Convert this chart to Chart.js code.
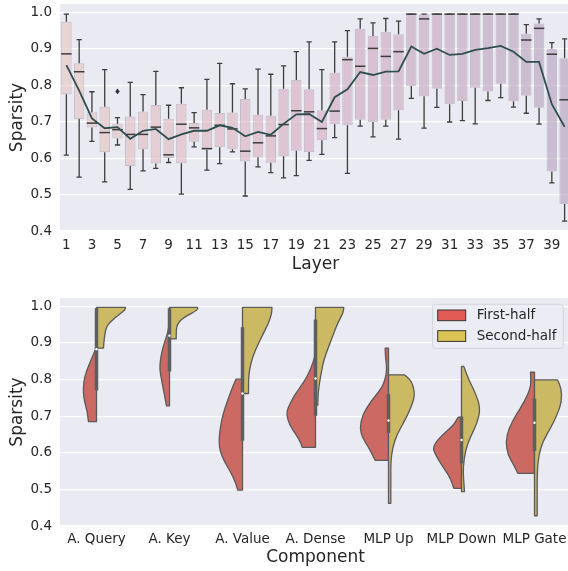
<!DOCTYPE html>
<html>
<head>
<meta charset="utf-8">
<script src="https://cdn.jsdelivr.net/npm/chart.js@4.4.1/dist/chart.umd.min.js"></script>
<style>
  html, body { margin: 0; padding: 0; overflow: hidden; background: #fff; }
  #wrap { position: relative; width: 568px; height: 571px; overflow: hidden; }
  .panel { position: absolute; left: 0; }
</style>
</head>
<body>
<div id="wrap">
  <div class="panel" style="top:0"><canvas id="layerChart" width="571" height="280"></canvas></div>
  <div class="panel" style="top:280px"><canvas id="componentChart" width="571" height="291"></canvas></div>
</div>
<script>
// ---- per-layer sparsity (box plot stats + mean) ----
const layers = Array.from({ length: 40 }, (_, i) => String(i + 1));
const whiskerLow  = [0.608, 0.548, 0.646, 0.535, 0.636, 0.514, 0.565, 0.572, 0.588, 0.501,
                     0.631, 0.567, 0.585, 0.617, 0.496, 0.576, 0.560, 0.546, 0.552, 0.594,
                     0.610, 0.656, 0.558, 0.688, 0.658, 0.688, 0.652, 0.764, 0.682, 0.739,
                     0.699, 0.703, 0.694, 0.758, 0.766, 0.740, 0.723, 0.693, 0.532, 0.427];
const q1          = [0.775, 0.707, 0.684, 0.616, 0.654, 0.578, 0.624, 0.585, 0.600, 0.586,
                     0.645, 0.623, 0.630, 0.624, 0.591, 0.602, 0.587, 0.605, 0.620, 0.617,
                     0.649, 0.693, 0.690, 0.705, 0.699, 0.705, 0.731, 0.798, 0.770, 0.790,
                     0.748, 0.757, 0.793, 0.783, 0.804, 0.756, 0.771, 0.738, 0.563, 0.474];
const median      = [0.886, 0.837, 0.696, 0.670, 0.678, 0.665, 0.665, 0.685, 0.609, 0.693,
                     0.683, 0.626, 0.690, 0.680, 0.619, 0.642, 0.661, 0.692, 0.730, 0.727,
                     0.681, 0.729, 0.870, 0.852, 0.901, 0.879, 0.892, 0.995, 0.982, 0.995,
                     0.995, 0.995, 0.995, 0.995, 0.995, 0.995, 0.924, 0.956, 0.885, 0.760];
const q3          = [0.974, 0.860, 0.726, 0.741, 0.694, 0.714, 0.728, 0.746, 0.708, 0.749,
                     0.696, 0.733, 0.724, 0.725, 0.762, 0.719, 0.716, 0.790, 0.814, 0.789,
                     0.731, 0.834, 0.878, 0.955, 0.935, 0.947, 0.940, 0.995, 0.995, 0.995,
                     0.995, 0.995, 0.995, 0.995, 0.995, 0.995, 0.941, 0.969, 0.900, 0.874];
const whiskerHigh = [0.995, 0.925, 0.782, 0.843, 0.711, 0.808, 0.774, 0.838, 0.745, 0.793,
                     0.725, 0.816, 0.860, 0.804, 0.790, 0.844, 0.830, 0.853, 0.892, 0.919,
                     0.843, 0.919, 0.950, 0.982, 0.971, 0.983, 0.976, 0.995, 0.995, 0.995,
                     0.995, 0.995, 0.995, 0.995, 0.995, 0.995, 0.966, 0.982, 0.917, 0.927];
const meanSparsity = [0.855, 0.785, 0.709, 0.682, 0.685, 0.653, 0.675, 0.680, 0.652, 0.665,
                      0.675, 0.675, 0.690, 0.683, 0.660, 0.672, 0.664, 0.694, 0.720, 0.721,
                      0.699, 0.767, 0.789, 0.836, 0.828, 0.837, 0.838, 0.906, 0.886, 0.900,
                      0.883, 0.886, 0.897, 0.902, 0.908, 0.892, 0.864, 0.864, 0.748, 0.686];
// [layer index, value]
const outliers = [[4, 0.783]];

// ---- per-component split violins ----
const components = ['A. Query', 'A. Key', 'A. Value', 'A. Dense', 'MLP Up', 'MLP Down', 'MLP Gate'];
const halves = ['First-half', 'Second-half'];
// [sparsity, half-width] pairs, width in 1/73 of a category slot
const firstHalfShape = [
  [[0.685, 8], [0.70, 8.8], [0.713, 9.3], [0.74, 12], [0.767, 13.3], [0.795, 12.7], [0.822, 10.3], [0.85, 6], [0.886, 0.5]],
  [[0.728, 3], [0.75, 4.5], [0.767, 5.7], [0.79, 7.3], [0.81, 8.7], [0.83, 9.7], [0.85, 9.3], [0.87, 8], [0.886, 6.7], [0.905, 4.5], [0.923, 2.3], [0.94, 1], [0.955, 0.3]],
  [[0.498, 4.7], [0.521, 7], [0.549, 12.3], [0.576, 18], [0.603, 22.3], [0.631, 23.7], [0.667, 22.3], [0.704, 19.7], [0.740, 15.3], [0.777, 10.3], [0.801, 6.5]],
  [[0.615, 13.3], [0.626, 14.3], [0.649, 19.3], [0.676, 26], [0.704, 29], [0.722, 27.7], [0.758, 21], [0.795, 11], [0.831, 4.3], [0.865, 0.5]],
  [[0.579, 13.3], [0.613, 19.3], [0.640, 26], [0.667, 28.7], [0.704, 26], [0.740, 17.7], [0.777, 6.7], [0.80, 3.5], [0.82, 2], [0.84, 2], [0.86, 3], [0.886, 3.3]],
  [[0.503, 7.7], [0.531, 11], [0.558, 17.7], [0.594, 26], [0.617, 29], [0.649, 19.3], [0.676, 7.7], [0.697, 3.5]],
  [[0.544, 16.7], [0.567, 20.7], [0.594, 26.7], [0.631, 28.7], [0.667, 25.7], [0.704, 18.3], [0.740, 10], [0.777, 4], [0.80, 3.7], [0.82, 4]]
];
const secondHalfShape = [
  [[0.886, 7], [0.90, 7.3], [0.92, 8.2], [0.94, 9.5], [0.95, 11.5], [0.96, 15], [0.97, 19], [0.98, 24], [0.99, 28.5], [0.997, 29]],
  [[0.911, 6.7], [0.93, 6.7], [0.945, 7.2], [0.955, 9], [0.965, 12], [0.975, 18], [0.985, 25], [0.993, 28.5], [0.997, 28]],
  [[0.762, 6], [0.786, 6], [0.813, 6.3], [0.84, 8], [0.868, 11], [0.895, 15.3], [0.923, 20.3], [0.95, 25.3], [0.977, 29], [0.997, 29.5]],
  [[0.73, 2.3], [0.745, 2.3], [0.78, 3.3], [0.818, 5.7], [0.854, 8.3], [0.891, 13.3], [0.927, 18.3], [0.955, 22.3], [0.982, 27.7], [0.997, 28.3]],
  [[0.462, 2.3], [0.52, 2.3], [0.576, 2.3], [0.613, 4], [0.649, 8.3], [0.685, 15.7], [0.722, 22.3], [0.758, 26.7], [0.795, 23.3], [0.813, 16]],
  [[0.494, 3], [0.53, 2], [0.562, 1.7], [0.608, 4], [0.644, 9], [0.681, 15.7], [0.722, 19], [0.763, 14], [0.799, 7.3], [0.836, 2.3]],
  [[0.428, 2.7], [0.485, 2.7], [0.549, 2.7], [0.594, 4.3], [0.631, 8.3], [0.667, 16], [0.704, 22.7], [0.740, 27.3], [0.777, 26.7], [0.799, 23]]
];
const innerQ1     = [0.770, 0.822, 0.633, 0.701, 0.654, 0.571, 0.605];
const innerQ3     = [0.995, 0.995, 0.943, 0.964, 0.760, 0.699, 0.748];
const innerMedian = [0.883, 0.920, 0.762, 0.803, 0.688, 0.635, 0.682];

const yTicks = [0.4, 0.5, 0.6, 0.7, 0.8, 0.9, 1.0];

// ---- shared styling ----
const FONT = "'DejaVu Sans', sans-serif";
const TEXT = '#262626';
const tickFont = { family: FONT, size: 13.5 };
const titleFont = { family: FONT, size: 17 };

const backdrop = {
  id: 'backdrop',
  beforeDraw(chart) {
    const { ctx, chartArea: a } = chart;
    ctx.save();
    ctx.fillStyle = '#eaeaf2';
    ctx.fillRect(a.left, a.top, a.right - a.left, a.bottom - a.top);
    ctx.restore();
  }
};

function yAxis() {
  return {
    min: 0.4,
    max: 1.0228,
    afterBuildTicks(s) { s.ticks = yTicks.map(v => ({ value: v })); },
    afterFit(s) {
      s.width = 60;
      // keep the plot box fixed; labels never sit on the edges
      s.paddingTop = 0;
      s.paddingBottom = 0;
    },
    grid: { color: '#ffffff', lineWidth: 1.2, drawTicks: false },
    border: { display: false },
    ticks: { padding: 8, color: TEXT, font: tickFont, callback: v => v.toFixed(1) },
    title: { display: true, text: 'Sparsity', color: TEXT, font: titleFont, padding: { top: 7, bottom: 7 } }
  };
}

// box fill per layer: light rose drifting to lilac
const boxStops = [[0, [229, 199, 194]], [19, [216, 173, 193]], [39, [182, 163, 190]]];
function boxColor(i) {
  let k = 0;
  while (k < boxStops.length - 2 && i > boxStops[k + 1][0]) k++;
  const [i0, c0] = boxStops[k], [i1, c1] = boxStops[k + 1];
  const t = (i - i0) / (i1 - i0);
  const c = c0.map((v, j) => Math.round(v + (c1[j] - v) * t));
  return `rgba(${c[0]},${c[1]},${c[2]},0.65)`;
}

// whiskers, caps, medians and fliers on top of the boxes
const boxDetails = {
  id: 'boxDetails',
  afterDatasetDraw(chart, args) {
    if (args.index !== 0) return;
    const { ctx } = chart;
    const y = chart.scales.y;
    ctx.save();
    ctx.strokeStyle = '#3d3d3d';
    args.meta.data.forEach((bar, i) => {
      const x = bar.x, half = bar.width / 2, cap = half / 2;
      ctx.beginPath();
      ctx.lineWidth = 1.3;
      ctx.moveTo(x, y.getPixelForValue(q1[i]));
      ctx.lineTo(x, y.getPixelForValue(whiskerLow[i]));
      ctx.moveTo(x, y.getPixelForValue(q3[i]));
      ctx.lineTo(x, y.getPixelForValue(whiskerHigh[i]));
      ctx.moveTo(x - cap, y.getPixelForValue(whiskerLow[i]));
      ctx.lineTo(x + cap, y.getPixelForValue(whiskerLow[i]));
      ctx.moveTo(x - cap, y.getPixelForValue(whiskerHigh[i]));
      ctx.lineTo(x + cap, y.getPixelForValue(whiskerHigh[i]));
      ctx.stroke();
      ctx.beginPath();
      ctx.lineWidth = 1.5;
      ctx.moveTo(x - half, y.getPixelForValue(median[i]));
      ctx.lineTo(x + half, y.getPixelForValue(median[i]));
      ctx.stroke();
    });
    ctx.fillStyle = '#333333';
    outliers.forEach(([i, v]) => {
      const x = args.meta.data[i].x, py = y.getPixelForValue(v), r = 2.8;
      ctx.beginPath();
      ctx.moveTo(x, py - r); ctx.lineTo(x + r * 0.8, py);
      ctx.lineTo(x, py + r); ctx.lineTo(x - r * 0.8, py);
      ctx.closePath();
      ctx.fill();
    });
    ctx.restore();
  }
};

new Chart(document.getElementById('layerChart'), {
  type: 'bar',
  data: {
    labels: layers,
    datasets: [
      {
        type: 'bar',
        label: 'Sparsity',
        data: layers.map((_, i) => [q1[i], q3[i]]),
        backgroundColor: layers.map((_, i) => boxColor(i)),
        borderColor: 'rgba(150,140,155,0.45)',
        borderWidth: 1,
        borderSkipped: false,
        barPercentage: 0.82,
        categoryPercentage: 1,
        order: 1
      },
      {
        type: 'line',
        label: 'Mean',
        data: meanSparsity,
        borderColor: '#2f4f4f',
        borderWidth: 1.8,
        pointRadius: 0,
        tension: 0,
        order: 0
      }
    ]
  },
  options: {
    responsive: false,
    animation: false,
    layout: { padding: { top: 4, left: 0, right: 0, bottom: 0 } },
    plugins: { legend: { display: false }, tooltip: { enabled: false } },
    scales: {
      x: {
        offset: true,
        afterFit(s) { s.height = 49; s.paddingLeft = 0; s.paddingRight = 0; },
        grid: { display: false, drawTicks: false },
        border: { display: false },
        ticks: {
          autoSkip: false, maxRotation: 0, padding: 6, color: TEXT, font: tickFont,
          callback: (v, i) => (i % 2 === 0 ? layers[i] : '')
        },
        title: { display: true, text: 'Layer', color: TEXT, font: titleFont, padding: { top: 5, bottom: 5 } }
      },
      y: yAxis()
    }
  },
  plugins: [backdrop, boxDetails]
});

// ---- split violins ----
const violinFill = ['#cc6962', '#ccb963'];
const legendFill = ['#e05c55', '#dcc454'];

function halfPath(ctx, cx, dir, shape, unit, y) {
  const pts = shape.map(([v, w]) => [cx + dir * w * unit, y.getPixelForValue(v)]);
  ctx.beginPath();
  ctx.moveTo(cx, pts[0][1]);
  ctx.lineTo(pts[0][0], pts[0][1]);
  for (let i = 1; i < pts.length - 1; i++) {
    const mx = (pts[i][0] + pts[i + 1][0]) / 2, my = (pts[i][1] + pts[i + 1][1]) / 2;
    ctx.quadraticCurveTo(pts[i][0], pts[i][1], mx, my);
  }
  const last = pts[pts.length - 1];
  ctx.lineTo(last[0], last[1]);
  ctx.lineTo(cx, last[1]);
  ctx.closePath();
}

const violins = {
  id: 'violins',
  afterDatasetsDraw(chart) {
    const { ctx } = chart;
    const x = chart.scales.x, y = chart.scales.y;
    const unit = (x.getPixelForValue(1) - x.getPixelForValue(0)) / 73;
    ctx.save();
    ctx.lineJoin = 'round';
    components.forEach((_, i) => {
      const cx = x.getPixelForValue(i);
      [[firstHalfShape[i], -1, 0], [secondHalfShape[i], 1, 1]].forEach(([shape, dir, k]) => {
        halfPath(ctx, cx, dir, shape, unit, y);
        ctx.fillStyle = violinFill[k];
        ctx.fill();
        ctx.strokeStyle = '#5a5a5a';
        ctx.lineWidth = 1.3;
        ctx.stroke();
      });
      ctx.beginPath();
      ctx.strokeStyle = '#5e5e5e';
      ctx.lineWidth = 3.5;
      ctx.moveTo(cx, y.getPixelForValue(innerQ1[i]));
      ctx.lineTo(cx, y.getPixelForValue(innerQ3[i]));
      ctx.stroke();
      ctx.beginPath();
      ctx.fillStyle = '#ffffff';
      ctx.arc(cx, y.getPixelForValue(innerMedian[i]), 1.2, 0, Math.PI * 2);
      ctx.fill();
    });
    ctx.restore();
  },
  afterDraw(chart) {
    const { ctx, chartArea: a } = chart;
    const w = 130.6, h = 44;
    const left = a.right - 7.7 - w, top = a.top + 6.3;
    ctx.save();
    ctx.beginPath();
    ctx.roundRect(left, top, w, h, 3);
    ctx.fillStyle = 'rgba(236,236,244,0.85)';
    ctx.fill();
    ctx.strokeStyle = '#d4d4dc';
    ctx.lineWidth = 1;
    ctx.stroke();
    ctx.font = `13.5px ${FONT}`;
    ctx.textBaseline = 'middle';
    chart.data.datasets.forEach((ds, k) => {
      const py = top + 5.7 + k * 20.7;
      ctx.fillStyle = legendFill[k];
      ctx.fillRect(left + 5, py, 28, 10.7);
      ctx.strokeStyle = '#333333';
      ctx.strokeRect(left + 5, py, 28, 10.7);
      ctx.fillStyle = TEXT;
      ctx.fillText(ds.label, left + 44, py + 5.6);
    });
    ctx.restore();
  }
};

new Chart(document.getElementById('componentChart'), {
  type: 'bar',
  data: {
    labels: components,
    datasets: halves.map((name, k) => ({
      label: name,
      data: components.map(() => null),
      backgroundColor: violinFill[k]
    }))
  },
  options: {
    responsive: false,
    animation: false,
    layout: { padding: { top: 18, left: 0, right: 0, bottom: 0 } },
    plugins: { legend: { display: false }, tooltip: { enabled: false } },
    scales: {
      x: {
        offset: true,
        afterFit(s) { s.height = 45; s.paddingLeft = 0; s.paddingRight = 0; },
        grid: { display: false, drawTicks: false },
        border: { display: false },
        ticks: { autoSkip: false, maxRotation: 0, padding: 5, color: TEXT, font: tickFont },
        title: { display: true, text: 'Component', color: TEXT, font: titleFont, padding: { top: 3.5, bottom: 3.5 } }
      },
      y: yAxis()
    }
  },
  plugins: [backdrop, violins]
});
</script>
</body>
</html>
